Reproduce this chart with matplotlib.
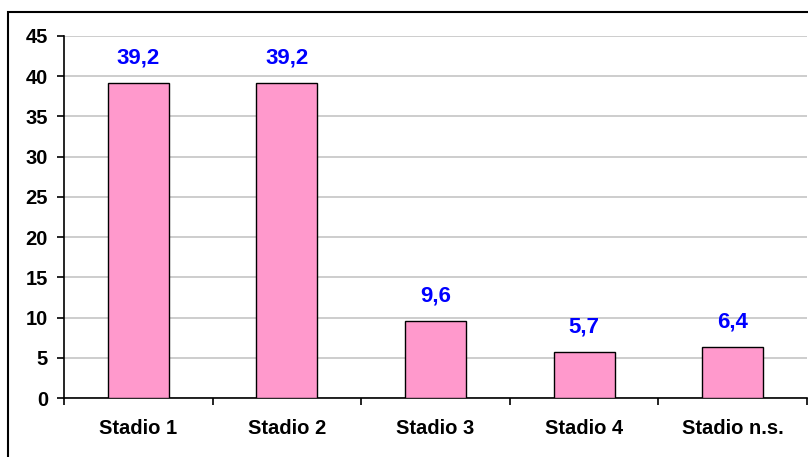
import matplotlib
matplotlib.use("Agg")
import matplotlib.pyplot as plt
from matplotlib.patches import Rectangle

categories = ["Stadio 1", "Stadio 2", "Stadio 3", "Stadio 4", "Stadio n.s."]
values = [39.2, 39.2, 9.6, 5.7, 6.4]
value_labels = ["39,2", "39,2", "9,6", "5,7", "6,4"]
yticks = [0, 5, 10, 15, 20, 25, 30, 35, 40, 45]

plt.rcParams['font.family'] = ['Liberation Sans', 'DejaVu Sans']

fig = plt.figure(figsize=(8.08, 4.57), dpi=100)
ax = fig.add_axes([64/808, 59/457, 743/808, 362/457])

x = list(range(len(categories)))
ax.bar(x, values, width=0.41, color="#FF99CC", edgecolor="black", linewidth=1.0, zorder=3)

for xi, v, lab in zip(x, values, value_labels):
    ax.annotate(lab, (xi, v), xytext=(0, 18), textcoords="offset points",
                ha="center", va="center", color="#0000FF", fontsize=16, fontweight="bold")

ax.set_xlim(-0.5, len(categories) - 0.5)
ax.set_ylim(0, 45)
ax.set_yticks(yticks)
ax.set_yticklabels([str(t) for t in yticks], fontsize=14.5, fontweight="bold")
ax.yaxis.grid(True, color="#C0C0C0", linewidth=1.1, zorder=0)
ax.set_axisbelow(True)

ax.set_xticks([i - 0.5 for i in range(len(categories) + 1)])
ax.set_xticklabels([])
ax.set_xticks(x, minor=True)
ax.set_xticklabels(categories, minor=True, fontsize=14.5, fontweight="bold")
ax.tick_params(axis="x", which="major", direction="out", length=5, width=1.2, color="black")
ax.tick_params(axis="x", which="minor", length=0, pad=15)
ax.tick_params(axis="y", direction="out", length=5, width=1.2, pad=6.5)

for s in ["top", "right"]:
    ax.spines[s].set_visible(False)
ax.spines["left"].set_linewidth(1.2)
ax.spines["bottom"].set_linewidth(1.2)

fig.patches.append(Rectangle((8/808, -0.05), 1.1, (457 - 12)/457 + 0.05,
                             transform=fig.transFigure, fill=False,
                             edgecolor="black", linewidth=1.5, clip_on=False))

fig.savefig("out.png", dpi=100)
